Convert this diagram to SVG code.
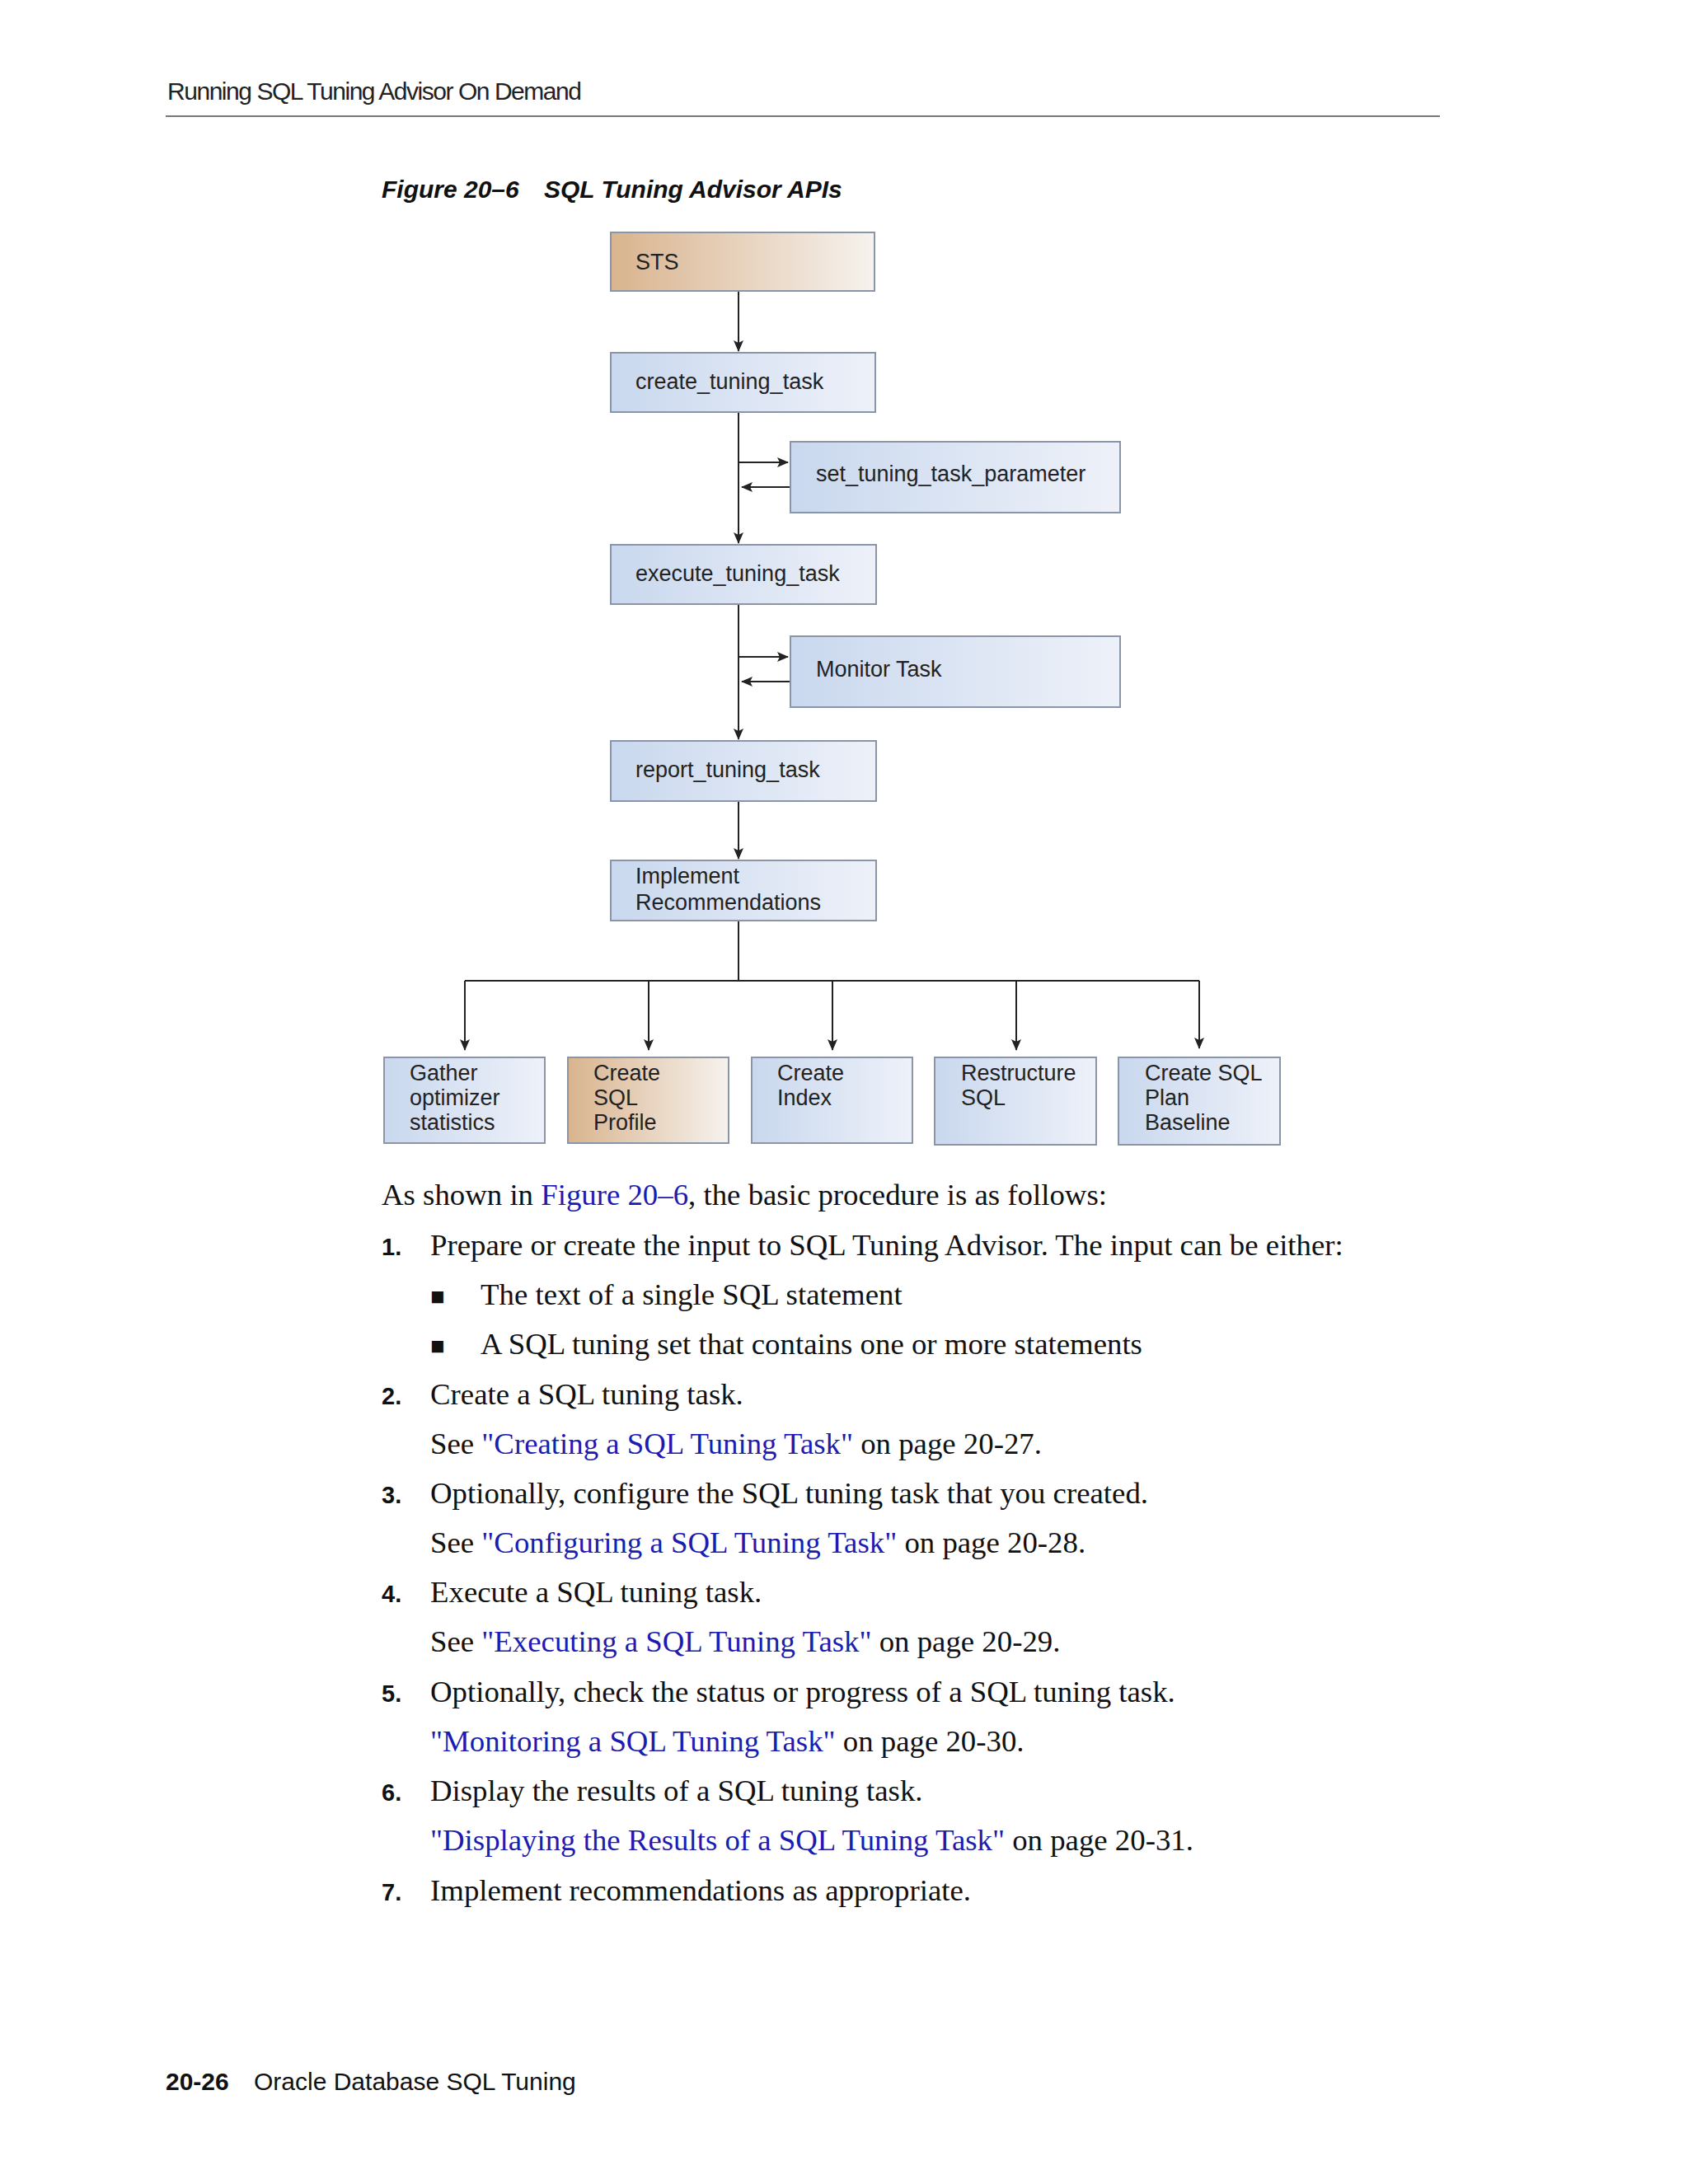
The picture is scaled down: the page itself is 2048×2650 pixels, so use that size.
<svg xmlns="http://www.w3.org/2000/svg" width="2048" height="2650" viewBox="0 0 2048 2650">
<defs>
<linearGradient id="gb" x1="0" y1="0" x2="1" y2="0"><stop offset="0" stop-color="#c9d8ee"/><stop offset="1" stop-color="#eef1f9"/></linearGradient>
<linearGradient id="go" x1="0" y1="0" x2="1" y2="0"><stop offset="0" stop-color="#d9b48e"/><stop offset="1" stop-color="#f6f2ee"/></linearGradient>
<marker id="ah" markerWidth="14" markerHeight="14" refX="13" refY="7" orient="auto" markerUnits="userSpaceOnUse"><path d="M0,1 L14,7 L0,13 L3,7 Z" fill="#222"/></marker>
<style>
.bx{stroke:#8a96a8;stroke-width:2}
.bl{fill:url(#gb)}.or{fill:url(#go)}
.t{font-family:"Liberation Sans",Arial,sans-serif;font-size:27px;fill:#222}
.c{stroke:#222;stroke-width:2;fill:none}
.s{font-family:"Liberation Serif","Times New Roman",serif;font-size:36.8px;fill:#111}
.n{font-family:"Liberation Sans",Arial,sans-serif;font-size:29px;font-weight:bold;fill:#111}
.lk{fill:#1c1cb0}
</style>
</defs>
<rect width="2048" height="2650" fill="#fff"/>
<text x="203" y="121" font-family="Liberation Sans,Arial,sans-serif" font-size="30" fill="#222" textLength="503">Running SQL Tuning Advisor On Demand</text>
<line x1="201" y1="141" x2="1747" y2="141" stroke="#777" stroke-width="2"/>
<text x="463" y="240" font-family="Liberation Sans,Arial,sans-serif" font-size="30" font-weight="bold" font-style="italic" fill="#111">Figure 20–6<tspan x="660">SQL Tuning Advisor APIs</tspan></text>
<g id="connectors">
<line class="c" x1="896" y1="353" x2="896" y2="426" marker-end="url(#ah)"/>
<line class="c" x1="896" y1="500" x2="896" y2="659" marker-end="url(#ah)"/>
<line class="c" x1="896" y1="561" x2="956" y2="561" marker-end="url(#ah)"/>
<line class="c" x1="958" y1="591" x2="900" y2="591" marker-end="url(#ah)"/>
<line class="c" x1="896" y1="733" x2="896" y2="897" marker-end="url(#ah)"/>
<line class="c" x1="896" y1="797" x2="956" y2="797" marker-end="url(#ah)"/>
<line class="c" x1="958" y1="827" x2="900" y2="827" marker-end="url(#ah)"/>
<line class="c" x1="896" y1="972" x2="896" y2="1042" marker-end="url(#ah)"/>
<line class="c" x1="896" y1="1117" x2="896" y2="1190"/>
<line class="c" x1="564" y1="1190" x2="1455" y2="1190"/>
<line class="c" x1="564" y1="1190" x2="564" y2="1274" marker-end="url(#ah)"/>
<line class="c" x1="787" y1="1190" x2="787" y2="1274" marker-end="url(#ah)"/>
<line class="c" x1="1010" y1="1190" x2="1010" y2="1274" marker-end="url(#ah)"/>
<line class="c" x1="1233" y1="1190" x2="1233" y2="1274" marker-end="url(#ah)"/>
<line class="c" x1="1455" y1="1190" x2="1455" y2="1272" marker-end="url(#ah)"/>
</g>
<g id="sts"><rect class="bx or" x="741" y="282" width="320" height="71"/><text class="t" x="771" y="327">STS</text></g>
<g id="create"><rect class="bx bl" x="741" y="428" width="321" height="72"/><text class="t" x="771" y="472">create_tuning_task</text></g>
<g id="setparam"><rect class="bx bl" x="959" y="536" width="400" height="86"/><text class="t" x="990" y="584">set_tuning_task_parameter</text></g>
<g id="execute"><rect class="bx bl" x="741" y="661" width="322" height="72"/><text class="t" x="771" y="705">execute_tuning_task</text></g>
<g id="monitor"><rect class="bx bl" x="959" y="772" width="400" height="86"/><text class="t" x="990" y="821">Monitor Task</text></g>
<g id="report"><rect class="bx bl" x="741" y="899" width="322" height="73"/><text class="t" x="771" y="943">report_tuning_task</text></g>
<g id="implement"><rect class="bx bl" x="741" y="1044" width="322" height="73"/><text class="t" x="771" y="1072">Implement<tspan x="771" dy="32">Recommendations</tspan></text></g>
<g id="gather"><rect class="bx bl" x="466" y="1283" width="195" height="104"/><text class="t" x="497" y="1311">Gather<tspan x="497" dy="30">optimizer</tspan><tspan x="497" dy="30">statistics</tspan></text></g>
<g id="profile"><rect class="bx or" x="689" y="1283" width="195" height="104"/><text class="t" x="720" y="1311">Create<tspan x="720" dy="30">SQL</tspan><tspan x="720" dy="30">Profile</tspan></text></g>
<g id="index"><rect class="bx bl" x="912" y="1283" width="195" height="104"/><text class="t" x="943" y="1311">Create<tspan x="943" dy="30">Index</tspan></text></g>
<g id="restructure"><rect class="bx bl" x="1134" y="1283" width="196" height="106"/><text class="t" x="1166" y="1311">Restructure<tspan x="1166" dy="30">SQL</tspan></text></g>
<g id="baseline"><rect class="bx bl" x="1357" y="1283" width="196" height="106"/><text class="t" x="1389" y="1311">Create SQL<tspan x="1389" dy="30">Plan</tspan><tspan x="1389" dy="30">Baseline</tspan></text></g>
<text class="s" x="463" y="1462">As shown in <tspan class="lk">Figure 20–6</tspan>, the basic procedure is as follows:</text>
<text class="n" x="463" y="1523">1.</text><text class="s" x="522" y="1523">Prepare or create the input to SQL Tuning Advisor. The input can be either:</text>
<text class="n" x="522" y="1583" font-size="22">■</text><text class="s" x="583" y="1583">The text of a single SQL statement</text>
<text class="n" x="522" y="1643" font-size="22">■</text><text class="s" x="583" y="1643">A SQL tuning set that contains one or more statements</text>
<text class="n" x="463" y="1704">2.</text><text class="s" x="522" y="1704">Create a SQL tuning task.</text>
<text class="s" x="522" y="1764">See <tspan class="lk">"Creating a SQL Tuning Task"</tspan> on page 20-27.</text>
<text class="n" x="463" y="1824">3.</text><text class="s" x="522" y="1824">Optionally, configure the SQL tuning task that you created.</text>
<text class="s" x="522" y="1884">See <tspan class="lk">"Configuring a SQL Tuning Task"</tspan> on page 20-28.</text>
<text class="n" x="463" y="1944">4.</text><text class="s" x="522" y="1944">Execute a SQL tuning task.</text>
<text class="s" x="522" y="2004">See <tspan class="lk">"Executing a SQL Tuning Task"</tspan> on page 20-29.</text>
<text class="n" x="463" y="2065">5.</text><text class="s" x="522" y="2065">Optionally, check the status or progress of a SQL tuning task.</text>
<text class="s" x="522" y="2125"><tspan class="lk">"Monitoring a SQL Tuning Task"</tspan> on page 20-30.</text>
<text class="n" x="463" y="2185">6.</text><text class="s" x="522" y="2185">Display the results of a SQL tuning task.</text>
<text class="s" x="522" y="2245"><tspan class="lk">"Displaying the Results of a SQL Tuning Task"</tspan> on page 20-31.</text>
<text class="n" x="463" y="2306">7.</text><text class="s" x="522" y="2306">Implement recommendations as appropriate.</text>
<text x="201" y="2536" font-family="Liberation Sans,Arial,sans-serif" font-size="30" fill="#111"><tspan font-weight="bold">20-26</tspan><tspan x="308">Oracle Database SQL Tuning</tspan></text>
</svg>
